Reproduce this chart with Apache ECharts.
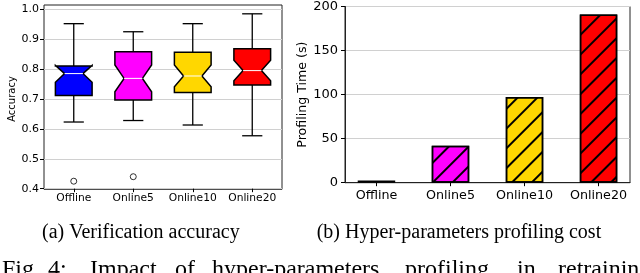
<!DOCTYPE html>
<html><head><meta charset="utf-8">
<script src="https://cdn.jsdelivr.net/npm/echarts@6/dist/echarts.min.js"></script>
<style>html,body{margin:0;padding:0;background:#fff}#c{width:640px;height:273px}</style>
</head><body><div id="c"></div>
<script>
const categories = ['Offline', 'Online5', 'Online10', 'Online20'];
const boxColors = ['#0000ff', '#ff00ff', '#ffd700', '#ff0000'];
const whiskerLow = [0.623, 0.628, 0.613, 0.577];
const q1 = [0.712, 0.697, 0.722, 0.747];
const notchLow = [0.756, 0.724, 0.741, 0.761];
const median = [0.785, 0.769, 0.777, 0.795];
const notchHigh = [0.812, 0.814, 0.814, 0.830];
const q3 = [0.810, 0.858, 0.856, 0.868];
const whiskerHigh = [0.952, 0.925, 0.952, 0.985];
const outliers = [[0, 0.425], [1, 0.440]];
const profilingTime = [2.5, 41.8, 97.2, 191.0];
const captionA = '(a) Verification accuracy';
const captionB = '(b) Hyper-parameters profiling cost';
const figWords = ['Fig.', '4:', 'Impact', 'of', 'hyper-parameters', 'profiling', 'in', 'retraining'];
const figWordX = [2, 48, 90, 175, 212, 405, 517, 558];

const SANS = 'DejaVu Sans';
const SERIF = 'Liberation Serif';

const boxData = categories.map((c, i) => [i, whiskerLow[i], q1[i], notchLow[i], median[i], notchHigh[i], q3[i], whiskerHigh[i]]);

function renderBox(params, api) {
  const i = api.value(0);
  const band = api.size([1, 0])[0];
  const hw = band * 0.617 / 2;
  const nw = hw * 0.5;
  const cw = hw * 0.55;
  const x = api.coord([i, 0.5])[0];
  const y = v => api.coord([i, v])[1];
  const wl = api.value(1), a = api.value(2), nl = api.value(3), md = api.value(4), nh = api.value(5), b = api.value(6), wh = api.value(7);
  const pts = [[x - hw, y(a)], [x + hw, y(a)], [x + hw, y(nl)], [x + nw, y(md)], [x + hw, y(nh)], [x + hw, y(b)],
               [x - hw, y(b)], [x - hw, y(nh)], [x - nw, y(md)], [x - hw, y(nl)]];
  const ls = { stroke: '#000', lineWidth: 1.3 };
  return {
    type: 'group',
    children: [
      { type: 'line', shape: { x1: x, y1: y(wl), x2: x, y2: y(a) }, style: ls },
      { type: 'line', shape: { x1: x, y1: y(b), x2: x, y2: y(wh) }, style: ls },
      { type: 'line', shape: { x1: x - cw, y1: y(wl), x2: x + cw, y2: y(wl) }, style: ls },
      { type: 'line', shape: { x1: x - cw, y1: y(wh), x2: x + cw, y2: y(wh) }, style: ls },
      { type: 'polygon', shape: { points: pts }, style: { fill: boxColors[i], stroke: '#000', lineWidth: 1.5 } },
      { type: 'line', shape: { x1: x - nw, y1: y(md), x2: x + nw, y2: y(md) }, style: { stroke: '#fff', lineWidth: 1 } }
    ]
  };
}

const hatch = {
  symbol: 'rect', symbolSize: 1, color: '#000',
  dashArrayX: [1, 0], dashArrayY: [1.3, 11.5], rotation: -Math.PI / 4
};

const graphics = [
  { type: 'text', left: 42, top: 223, style: { text: captionA, font: '20px "' + SERIF + '"', fill: '#000' } },
  { type: 'text', left: 316.7, top: 223, style: { text: captionB, font: '20px "' + SERIF + '"', fill: '#000' } }
];
figWords.forEach((w, k) => {
  graphics.push({ type: 'text', left: figWordX[k], top: 258, style: { text: w, font: '24px "' + SERIF + '"', fill: '#000' } });
});

const chart = echarts.init(document.getElementById('c'), null, { renderer: 'canvas' });
chart.setOption({
  animation: false,
  backgroundColor: '#fff',
  grid: [
    { left: 44, width: 238, top: 9.33, height: 179.34 },
    { left: 44, width: 238, top: 5, height: 184.3, show: true, borderColor: '#222', borderWidth: 1, backgroundColor: 'transparent' },
    { left: 345, width: 285, top: 5.7, height: 177, show: true, borderColor: '#222', borderWidth: 1, backgroundColor: 'transparent' }
  ],
  xAxis: [
    { type: 'category', gridIndex: 0, data: categories, boundaryGap: true,
      axisLine: { show: false }, axisTick: { show: true, alignWithLabel: true, length: 3.5, lineStyle: { color: '#000' } },
      axisLabel: { interval: 0, fontFamily: SANS, fontSize: 10.7, color: '#000', margin: 4.5 } },
    { type: 'value', gridIndex: 1, show: false, min: 0, max: 1 },
    { type: 'value', gridIndex: 2, min: -0.425, max: 3.425,
      axisLine: { show: true, onZero: false, lineStyle: { color: '#222', width: 1 } }, splitLine: { show: false },
      axisTick: { show: true, length: 3.5, lineStyle: { color: '#000' }, customValues: [0, 1, 2, 3] },
      axisLabel: { fontFamily: SANS, fontSize: 12.7, color: '#000', margin: 6, customValues: [0, 1, 2, 3],
        formatter: v => categories[Math.round(v)] } }
  ],
  yAxis: [
    { type: 'value', gridIndex: 0, min: 0.4, max: 1.0, interval: 0.1,
      name: 'Accuracy', nameLocation: 'middle', nameGap: 25, nameTextStyle: { fontFamily: SANS, fontSize: 10, color: '#000' },
      axisLine: { show: false }, axisTick: { show: true, length: 4, lineStyle: { color: '#000' } },
      axisLabel: { fontFamily: SANS, fontSize: 11, color: '#000', margin: 5, formatter: v => v.toFixed(1) },
      splitLine: { show: true, lineStyle: { color: '#d0d0d0', width: 1 } } },
    { type: 'value', gridIndex: 1, show: false, min: 0, max: 1 },
    { type: 'value', gridIndex: 2, min: 0, max: 200, interval: 50,
      name: 'Profiling Time (s)', nameLocation: 'middle', nameGap: 36, nameTextStyle: { fontFamily: SANS, fontSize: 12.6, color: '#000' },
      axisLine: { show: true, onZero: false, lineStyle: { color: '#222', width: 1 } },
      axisTick: { show: true, length: 4, lineStyle: { color: '#000' } },
      axisLabel: { fontFamily: SANS, fontSize: 13, color: '#000', margin: 7 },
      splitLine: { show: true, lineStyle: { color: '#d0d0d0', width: 1 } } }
  ],
  series: [
    { type: 'custom', xAxisIndex: 0, yAxisIndex: 0, renderItem: renderBox, data: boxData,
      encode: { x: 0, y: [1, 2, 3, 4, 5, 6, 7] }, z: 3 },
    { type: 'scatter', xAxisIndex: 0, yAxisIndex: 0, data: outliers, symbol: 'circle', symbolSize: 6,
      itemStyle: { color: '#fff', borderColor: '#000', borderWidth: 1 }, z: 4 },
    { type: 'bar', xAxisIndex: 2, yAxisIndex: 2, barWidth: 37.5,
      data: profilingTime.map((v, i) => ({ value: [i, v], itemStyle: { color: boxColors[i], borderColor: '#000', borderWidth: 1.5, decal: i === 0 ? null : hatch } })),
      z: 3 }
  ],
  graphic: graphics
});
</script>
</body></html>
